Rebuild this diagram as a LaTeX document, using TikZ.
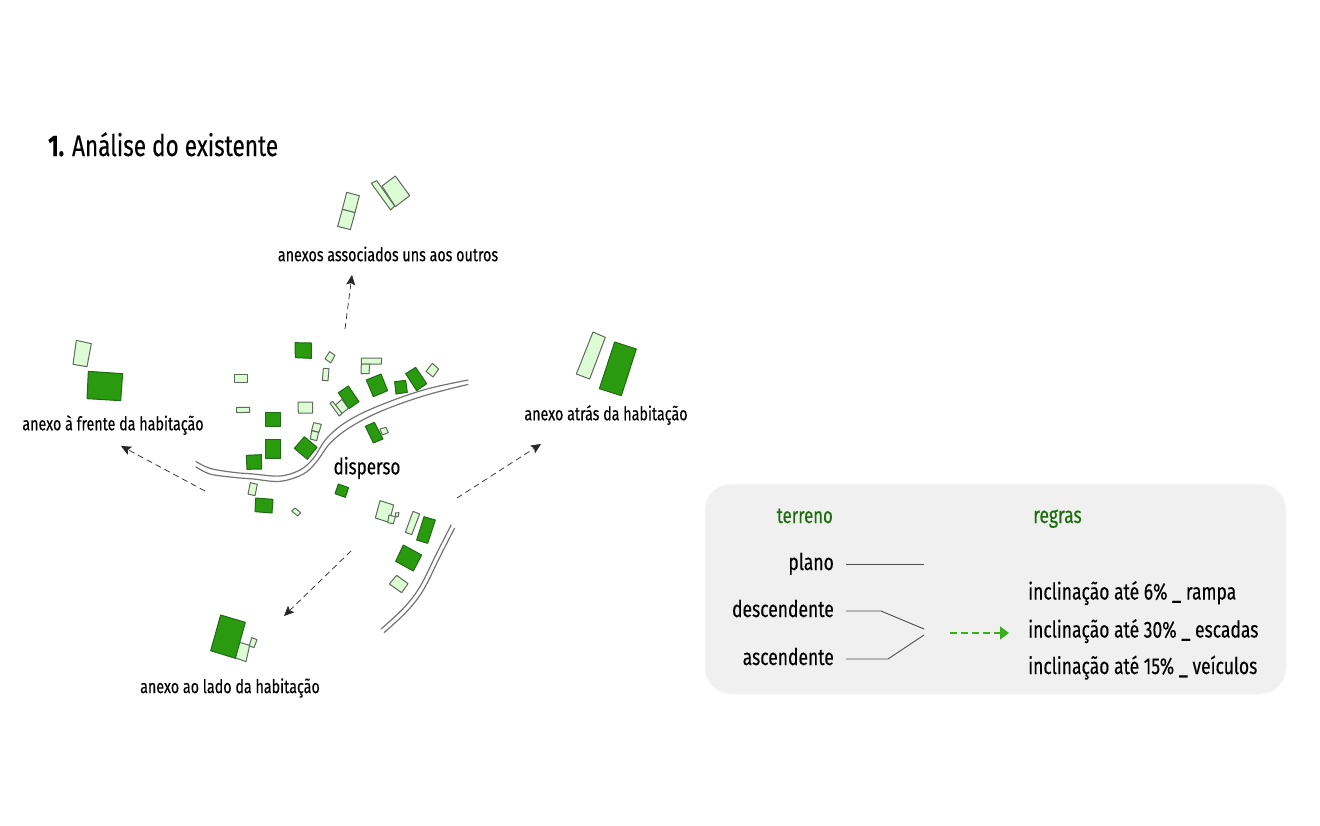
\documentclass[tikz,border=0pt]{standalone}
\usepackage{fontspec}
\setmainfont[FakeStretch=0.76,FakeBold=0.3]{Fira Sans}
\usetikzlibrary{arrows.meta}
\definecolor{darkg}{HTML}{2A9A0E}
\definecolor{darkb}{HTML}{1F6A14}
\definecolor{lightg}{HTML}{DDFCD5}
\definecolor{lightb}{HTML}{5F6B5C}
\definecolor{roadc}{HTML}{757575}
\definecolor{panel}{HTML}{F0F0F0}
\definecolor{panelb}{HTML}{F8F8F8}
\definecolor{headg}{HTML}{1C6E0C}
\definecolor{arrowg}{HTML}{38B01C}
\tikzset{
  x=1pt,y=-1pt,
  dk/.style={fill=darkg,draw=darkb,line width=1pt,line join=round},
  lt/.style={fill=lightg,draw=lightb,line width=1pt,line join=round},
  road/.style={draw=roadc,line width=1.2pt},
  guide/.style={draw=black!85,line width=0.7pt,dash pattern=on 6pt off 4pt,-{Stealth[length=10pt,width=9pt,inset=2pt]}},
  legline/.style={draw=black!70,line width=0.9pt},
  lab/.style={font=\fontsize{18.8}{22}\selectfont,inner sep=0pt,text=black},
  leg/.style={font=\fontsize{23}{26}\selectfont,inner sep=0pt,text=black},
  zoomed/.style={shift={#1},x=0.33333pt,y=-0.33333pt}
}
\begin{document}
\begin{tikzpicture}
\useasboundingbox (0,0) rectangle (1320,825);
\fill[white] (0,0) rectangle (1320,825);
\node[anchor=base west,inner sep=0pt,font=\fontsize{29.7}{34}\selectfont] (title) at (48,156) {\textbf{1.} Análise do existente};

\begin{scope}[zoomed={(190,330)}]
\draw[road] plot[smooth,tension=0.6] coordinates {(17,394)(60,415)(130,427)(190,432)(270,438)(330,420)(370,385)(410,325)(470,275)(560,230)(700,180)(835,150)};
\draw[road] plot[smooth,tension=0.6] coordinates {(17,410)(60,432)(130,442)(190,447)(270,454)(340,432)(380,395)(420,340)(480,292)(570,245)(700,198)(835,163)};
\foreach \p in {
 {(315,38)--(364,39)--(364,85)--(316,83)},
 {(445,188)--(475,168)--(507,215)--(477,236)},
 {(529,150)--(573,132)--(593,182)--(550,200)},
 {(614,155)--(647,151)--(652,187)--(618,192)},
 {(647,131)--(677,112)--(710,161)--(680,182)},
 {(226,248)--(271,248)--(271,288)--(226,288)},
 {(226,327)--(272,327)--(272,386)--(226,386)},
 {(169,376)--(214,374)--(215,417)--(171,418)},
 {(343,320)--(381,352)--(352,388)--(313,355)},
 {(526,289)--(553,277)--(579,327)--(550,339)},
 {(445,462)--(476,473)--(466,502)--(435,491)},
 {(197,504)--(249,508)--(246,549)--(195,545)}}{
   \expandafter\draw\expandafter[\expandafter d\expandafter k\expandafter]\p--cycle;}
\foreach \p in {
 {(405,86)--(419,65)--(435,76)--(422,99)},
 {(400,115)--(417,116)--(414,152)--(397,151)},
 {(514,84)--(575,84)--(574,102)--(514,102)},
 {(514,102)--(539,102)--(537,131)--(513,131)},
 {(708,124)--(727,100)--(746,117)--(729,141)},
 {(133,133)--(173,133)--(173,156)--(133,156)},
 {(140,232)--(179,232)--(179,247)--(140,248)},
 {(324,216)--(368,216)--(368,249)--(325,249)},
 {(436,225)--(456,208)--(475,235)--(454,252)},
 {(420,220)--(428,214)--(456,250)--(448,258)},
 {(371,278)--(394,283)--(387,307)--(365,301)},
 {(365,302)--(386,307)--(380,332)--(361,327)},
 {(570,297)--(588,292)--(595,308)--(577,315)},
 {(181,458)--(202,463)--(195,497)--(174,492)},
 {(305,543)--(315,534)--(332,548)--(323,558)}}{
   \expandafter\draw\expandafter[\expandafter l\expandafter t\expandafter]\p--cycle;}
\end{scope}

\begin{scope}[zoomed={(360,490)}]
\draw[road] plot[smooth,tension=0.6] coordinates {(274,104)(230,190)(180,290)(130,355)(63,417)};
\draw[road] plot[smooth,tension=0.6] coordinates {(284,114)(240,200)(190,300)(140,365)(72,428)};
\draw[lt] (60,32)--(101,45)--(87,97)--(46,84)--cycle;
\draw[lt] (87,75)--(106,80)--(100,101)--(83,98)--cycle;
\draw[lt] (106,69)--(117,68)--(115,79)--(107,81)--cycle;
\draw[lt] (159,64)--(179,72)--(155,134)--(136,127)--cycle;
\draw[dk] (192,80)--(226,90)--(203,160)--(170,150)--cycle;
\draw[dk] (130,165)--(185,195)--(160,243)--(107,214)--cycle;
\draw[lt] (110,256)--(144,281)--(125,308)--(88,282)--cycle;
\end{scope}

\begin{scope}[zoomed={(320,170)}]
\draw[lt] (80,67)--(118,77)--(105,128)--(67,118)--cycle;
\draw[lt] (67,118)--(105,128)--(91,179)--(53,169)--cycle;
\draw[lt] (186,48)--(226,18)--(269,77)--(226,110)--cycle;
\draw[lt] (154,40)--(170,32)--(224,108)--(212,120)--cycle;
\end{scope}

\begin{scope}[zoomed={(60,330)}]
\draw[lt] (49,31)--(94,41)--(81,110)--(39,103)--cycle;
\draw[dk] (85,124)--(188,131)--(182,212)--(81,206)--cycle;
\end{scope}

\begin{scope}[zoomed={(200,605)}]
\draw[lt] (116,111)--(149,121)--(138,170)--(105,158)--cycle;
\draw[lt] (155,98)--(171,104)--(162,128)--(148,122)--cycle;
\draw[dk] (62,30)--(136,52)--(106,160)--(32,137)--cycle;
\end{scope}

\begin{scope}[zoomed={(570,325)}]
\draw[lt] (69,21)--(106,37)--(59,162)--(19,147)--cycle;
\draw[dk] (134,51)--(199,72)--(154,212)--(88,191)--cycle;
\end{scope}

\node[lab] (top) at (388,254) {anexos associados uns aos outros};
\node[lab] (left) at (113,425) {anexo à frente da habitação};
\node[lab] (right) at (606,415) {anexo atrás da habitação};
\node[lab] (bottom) at (230,688) {anexo ao lado da habitação};
\node[inner sep=0pt,font=\fontsize{22.5}{26}\selectfont] (disp) at (367,468) {disperso};

\coordinate (t0) at (345,329); \coordinate (t1) at (352,275);
\coordinate (l0) at (205,491); \coordinate (l1) at (121,446);
\coordinate (r0) at (457,498); \coordinate (r1) at (541,444);
\coordinate (b0) at (351,551); \coordinate (b1) at (284,616);
\draw[guide] (t0)--(t1);
\draw[guide] (l0)--(l1);
\draw[guide] (r0)--(r1);
\draw[guide] (b0)--(b1);

\draw[fill=panel,draw=panelb,line width=1pt,rounded corners=26pt] (705,484) rectangle (1286,694);
\node[leg,anchor=base east,text=headg,font=\fontsize{22}{26}\selectfont] (terreno) at (833,523) {terreno};
\node[leg,anchor=base west,text=headg] (regras) at (1033,523) {regras};
\node[leg,anchor=base east] (plano) at (834,570) {plano};
\node[leg,anchor=base east] (desc) at (834,617) {descendente};
\node[leg,anchor=base east] (asc) at (834,665) {ascendente};
\node[leg,anchor=base west] (r1t) at (1028,599.5) {inclinação até 6\% \_ rampa};
\node[leg,anchor=base west] (r2t) at (1028,637.5) {inclinação até 30\% \_ escadas};
\node[leg,anchor=base west] (r3t) at (1028,674) {inclinação até 15\% \_ veículos};
\coordinate (p0) at (846,564); \coordinate (p1) at (924,564);
\coordinate (d0) at (846,611); \coordinate (d1) at (881,611); \coordinate (d2) at (924,629);
\coordinate (a0) at (846,659); \coordinate (a1) at (888,659); \coordinate (a2) at (924,635);
\coordinate (g0) at (950,633); \coordinate (g1) at (1009,633);
\draw[legline] (p0)--(p1);
\draw[legline] (d0)--(d1)--(d2);
\draw[legline] (a0)--(a1)--(a2);
\draw[arrowg,line width=1.5pt,dash pattern=on 7pt off 4pt,-{Triangle[length=9pt,width=13pt]}] (g0)--(g1);
\end{tikzpicture}
\end{document}
